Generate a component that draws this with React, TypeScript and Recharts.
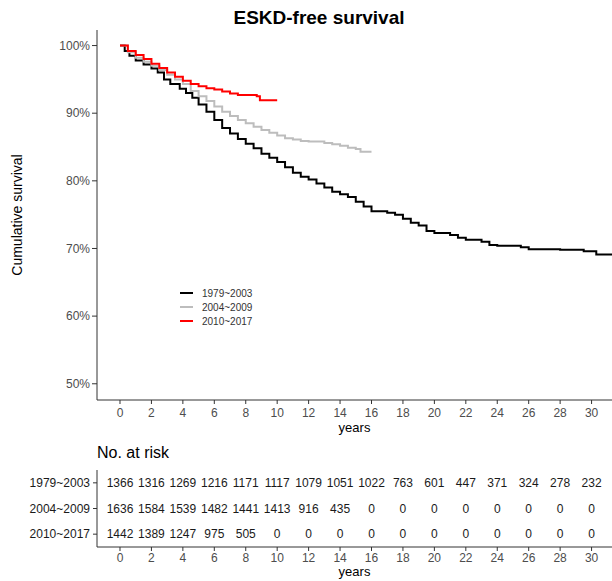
import React from 'react';
import {
  LineChart,
  Line,
  XAxis,
  YAxis,
  ScatterChart,
  Scatter,
} from 'recharts';

// Kaplan-Meier curves (years, % survival)
const t1979 = [0, 0.3, 0.6, 1, 1.5, 2, 2.4, 2.8, 3.2, 3.8, 4.2, 4.6, 5, 5.5, 6, 6.5, 7, 7.5, 8, 8.5, 9, 9.5, 10, 10.5, 11, 11.5, 12, 12.5, 13, 13.5, 14, 14.5, 15, 15.5, 16, 17, 17.5, 18, 18.5, 19, 19.5, 20, 21, 21.5, 22, 23, 23.5, 24, 25.5, 26, 28, 29.5, 30.3, 31.3];
const s1979 = [100, 99.2, 98.5, 97.8, 97.2, 96.6, 96.0, 95.0, 94.3, 93.6, 93.0, 92.3, 91.3, 90.2, 89.0, 87.8, 87.0, 86.2, 85.5, 84.8, 84.0, 83.4, 82.8, 82.0, 81.2, 80.6, 80.2, 79.6, 79.0, 78.4, 78.0, 77.6, 76.9, 76.2, 75.5, 75.3, 75.0, 74.4, 73.8, 73.4, 72.6, 72.3, 72.0, 71.6, 71.3, 71.0, 70.5, 70.4, 70.2, 69.9, 69.8, 69.6, 69.1, 69.1];

const t2004 = [0, 0.5, 1, 1.5, 2, 2.5, 3, 3.5, 4, 4.5, 5, 5.5, 6, 6.5, 7, 7.5, 8, 8.5, 9, 9.5, 10, 10.5, 11, 11.5, 12, 13, 13.5, 14, 14.5, 15, 15.3, 16];
const s2004 = [100, 99.0, 98.2, 97.6, 97.0, 96.4, 95.7, 95.0, 94.3, 93.3, 92.5, 91.8, 91.0, 90.2, 89.6, 89.0, 88.5, 88.0, 87.5, 87.1, 86.7, 86.3, 86.1, 85.9, 85.8, 85.6, 85.4, 85.2, 84.9, 84.7, 84.3, 84.3];

const t2010 = [0, 0.5, 1, 1.5, 2, 2.5, 3, 3.5, 4, 4.5, 5, 5.5, 6, 6.5, 7, 7.5, 8.7, 8.9, 10];
const s2010 = [100, 99.2, 98.6, 98.0, 97.3, 96.7, 96.0, 95.4, 94.8, 94.3, 94.0, 93.7, 93.5, 93.2, 92.9, 92.7, 92.5, 91.9, 91.9];

const groups = ['1979~2003', '2004~2009', '2010~2017'];
const colors = ['#000000', '#bdbdbd', '#ff0000'];

const xTicks = [0, 2, 4, 6, 8, 10, 12, 14, 16, 18, 20, 22, 24, 26, 28, 30];
const yTicks = [50, 60, 70, 80, 90, 100];

// number at risk, one value per x tick
const risk1979 = [1366, 1316, 1269, 1216, 1171, 1117, 1079, 1051, 1022, 763, 601, 447, 371, 324, 278, 232];
const risk2004 = [1636, 1584, 1539, 1482, 1441, 1413, 916, 435, 0, 0, 0, 0, 0, 0, 0, 0];
const risk2010 = [1442, 1389, 1247, 975, 505, 0, 0, 0, 0, 0, 0, 0, 0, 0, 0, 0];

const X_DOMAIN: [number, number] = [-1.463, 31.3];
const FONT = '"Liberation Sans", Arial, sans-serif';

const toSeries = (t: number[], s: number[]) => t.map((x, i) => ({ t: x, s: s[i] }));
const curves = [toSeries(t1979, s1979), toSeries(t2004, s2004), toSeries(t2010, s2010)];

const riskRows = [risk1979, risk2004, risk2010].map((row, r) =>
  row.map((n, i) => ({ x: xTicks[i], y: r + 1, n }))
);

const RiskText = (props: any) => {
  const { cx, cy, payload } = props;
  return (
    <text x={cx} y={cy} textAnchor="middle" dominantBaseline="central" fontSize={12} fill="#1a1a1a" fontFamily={FONT}>
      {payload.n}
    </text>
  );
};

export default function App() {
  const axisStroke = '#333';
  return (
    <div style={{ position: 'relative', width: 612, height: 581, fontFamily: FONT, background: '#fff' }}>
      <style>{'body{margin:0}'}</style>
      <div
        style={{
          position: 'absolute',
          left: 0,
          width: 612,
          top: 7,
          textAlign: 'center',
          fontSize: 19,
          fontWeight: 'bold',
          color: '#000',
          paddingLeft: 26,
          boxSizing: 'border-box',
        }}
      >
        ESKD-free survival
      </div>

      <div style={{ position: 'absolute', left: 0, top: 0 }}>
        <LineChart width={612} height={440} margin={{ top: 30, right: 0, left: 0, bottom: 8 }}>
          <XAxis
            type="number"
            dataKey="t"
            domain={X_DOMAIN}
            ticks={xTicks}
            allowDataOverflow
            height={32}
            tickSize={4}
            tickMargin={4}
            stroke={axisStroke}
            tick={{ fill: '#4d4d4d', fontSize: 12, fontFamily: FONT }}
            label={{ value: 'years', position: 'insideBottom', offset: 0, style: { fill: '#000', fontSize: 13, fontFamily: FONT } }}
          />
          <YAxis
            type="number"
            dataKey="s"
            domain={[47.6, 102.3]}
            ticks={yTicks}
            allowDataOverflow
            width={97}
            tickSize={5}
            tickMargin={2}
            stroke={axisStroke}
            tickFormatter={(v: number) => `${v}%`}
            tick={{ fill: '#4d4d4d', fontSize: 12, fontFamily: FONT }}
            label={{
              value: 'Cumulative survival',
              angle: -90,
              position: 'insideLeft',
              offset: 17,
              style: { fill: '#000', fontSize: 14, fontFamily: FONT, textAnchor: 'middle' },
            }}
          />
          {curves.map((d, i) => (
            <Line
              key={groups[i]}
              data={d}
              dataKey="s"
              name={groups[i]}
              type="stepAfter"
              stroke={colors[i]}
              strokeWidth={2}
              dot={false}
              isAnimationActive={false}
            />
          ))}
        </LineChart>
      </div>

      {/* legend inside plot */}
      <div style={{ position: 'absolute', left: 180, top: 286, fontSize: 10, color: '#333' }}>
        {groups.map((g, i) => (
          <div key={g} style={{ display: 'flex', alignItems: 'center', height: 14 }}>
            <div style={{ width: 13, height: 2, background: colors[i], marginRight: 9 }} />
            <span>{g}</span>
          </div>
        ))}
      </div>

      <div style={{ position: 'absolute', left: 97, top: 444, fontSize: 16, lineHeight: '18px', color: '#000' }}>
        No. at risk
      </div>

      <div style={{ position: 'absolute', left: 0, top: 460 }}>
        <ScatterChart width={612} height={121} margin={{ top: 10, right: 0, left: 0, bottom: 4 }}>
          <XAxis
            type="number"
            dataKey="x"
            domain={X_DOMAIN}
            ticks={xTicks}
            allowDataOverflow
            height={30}
            tickSize={4}
            tickMargin={2}
            stroke={axisStroke}
            tick={{ fill: '#4d4d4d', fontSize: 12, fontFamily: FONT }}
            label={{ value: 'years', position: 'insideBottom', offset: 1, style: { fill: '#000', fontSize: 13, fontFamily: FONT } }}
          />
          <YAxis
            type="number"
            dataKey="y"
            domain={[0.5, 3.5]}
            ticks={[1, 2, 3]}
            reversed
            width={97}
            tickSize={4}
            tickMargin={3}
            stroke={axisStroke}
            tickFormatter={(v: number) => groups[v - 1]}
            tick={{ fill: '#1a1a1a', fontSize: 12, fontFamily: FONT }}
          />
          {riskRows.map((row, r) => (
            <Scatter key={groups[r]} data={row} shape={RiskText} isAnimationActive={false} />
          ))}
        </ScatterChart>
      </div>
    </div>
  );
}
